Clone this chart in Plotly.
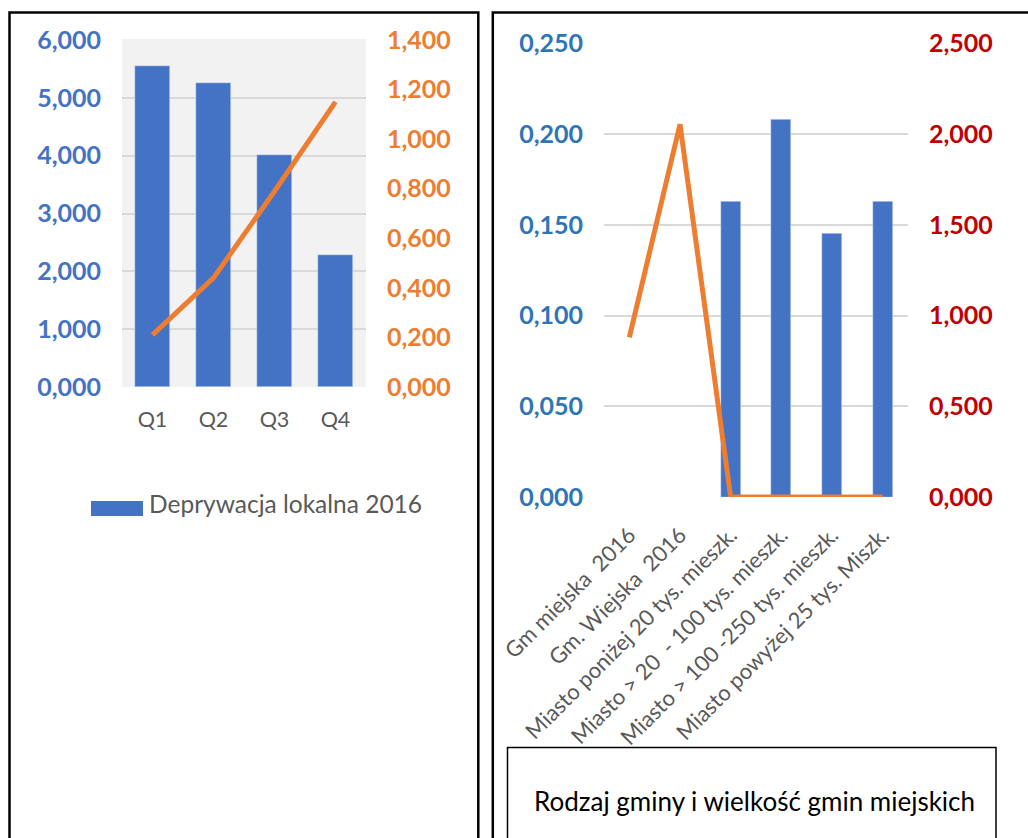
import plotly.graph_objects as go

# ---- data ----
quarters = ["Q1", "Q2", "Q3", "Q4"]
deprywacja_2016 = [5.55, 5.25, 4.01, 2.28]
kwartal_line = [0.21, 0.44, 0.79, 1.15]

gmina_types = [
    "Gm miejska  2016",
    "Gm. Wiejska  2016",
    "Miasto poniżej 20 tys. mieszk.",
    "Miasto > 20  - 100 tys. mieszk.",
    "Miasto > 100 -250 tys. mieszk.",
    "Miasto powyżej 25 tys. Miszk.",
]
gmina_bars = [None, None, 0.163, 0.208, 0.145, 0.163]
gmina_line = [0.88, 2.055, 0.0, 0.0, 0.0, 0.0]

W, H = 1028, 838
FONT = "Lato"
BLUE = "#4472C4"
ORANGE = "#ED7D31"
GRID = "#D9D9D9"
GRAY_TXT = "#595959"


def px_x(v):
    return v / W


def px_y(v):
    return 1 - v / H


fig = go.Figure()

# left chart: bars + line on secondary axis
fig.add_trace(go.Bar(x=quarters, y=deprywacja_2016, marker_color=BLUE,
                     width=[0.574] * 4, xaxis="x", yaxis="y",
                     name="Deprywacja lokalna 2016", showlegend=False))
fig.add_trace(go.Scatter(x=quarters, y=kwartal_line, mode="lines",
                         line=dict(color=ORANGE, width=5), xaxis="x", yaxis="y2",
                         showlegend=False))

# right chart: bars + line on secondary axis
fig.add_trace(go.Bar(x=gmina_types, y=gmina_bars, marker_color=BLUE,
                     width=[0.395] * 6, xaxis="x2", yaxis="y3", showlegend=False))
fig.add_trace(go.Scatter(x=gmina_types, y=gmina_line, mode="lines",
                         line=dict(color=ORANGE, width=5), xaxis="x2", yaxis="y4",
                         showlegend=False))

tick_bold = lambda c: dict(family=FONT, size=25, color=c, weight="bold")

fig.update_layout(
    width=W, height=H,
    autosize=False,
    margin=dict(l=0, r=0, t=0, b=0, pad=0, autoexpand=False),
    paper_bgcolor="white",
    plot_bgcolor="rgba(0,0,0,0)",
    separators=",.",
    font=dict(family=FONT),
    xaxis=dict(domain=[px_x(122), px_x(366)], anchor="y", type="category",
               range=[-0.5, 3.5], showgrid=False, showline=False, ticks="",
               automargin=False,
               tickfont=dict(family=FONT, size=21.5, color=GRAY_TXT),
               ticklabelstandoff=17),
    yaxis=dict(domain=[px_y(387), px_y(40)], anchor="x", range=[0, 6], dtick=1,
               tickformat=".3f", showgrid=True, gridcolor=GRID, gridwidth=1.5,
               zeroline=False, showline=False, ticks="", automargin=False,
               tickfont=tick_bold(BLUE), ticklabelstandoff=20),
    yaxis2=dict(overlaying="y", anchor="x", side="right", range=[0, 1.4], dtick=0.2,
                tickformat=".3f", showgrid=False, zeroline=False, showline=False,
                ticks="", automargin=False,
                tickfont=tick_bold(ORANGE), ticklabelstandoff=20),
    xaxis2=dict(domain=[px_x(604), px_x(908)], anchor="y3", type="category",
                range=[-0.5, 5.5], showgrid=False, showline=False, ticks="",
                automargin=False,
                tickangle=-45, tickfont=dict(family=FONT, size=22, color=GRAY_TXT),
                ticklabelstandoff=20),
    yaxis3=dict(domain=[px_y(497), px_y(43.5)], anchor="x2", range=[0, 0.25],
                dtick=0.05, tickformat=".3f", showgrid=True, gridcolor=GRID,
                gridwidth=1.5, zeroline=False, showline=False, ticks="",
                automargin=False,
                tickfont=tick_bold("#2E75B6"), ticklabelstandoff=20),
    yaxis4=dict(overlaying="y3", anchor="x2", side="right", range=[0, 2.5],
                dtick=0.5, tickformat=".3f", showgrid=False, zeroline=False,
                showline=False, ticks="", automargin=False,
                tickfont=tick_bold("#C00000"), ticklabelstandoff=20),
    bargap=0,
)

shapes = [
    # grey plot area of the left chart
    dict(type="rect", xref="x domain", yref="y domain", x0=0, x1=1, y0=0, y1=1.003,
         fillcolor="#F2F2F2", line_width=0, layer="below"),
    # panel frames
    dict(type="rect", xref="paper", yref="paper", x0=px_x(9.5), x1=px_x(478.3),
         y0=px_y(850), y1=px_y(12.5), line=dict(color="black", width=2.5),
         fillcolor="rgba(0,0,0,0)", layer="above"),
    dict(type="rect", xref="paper", yref="paper", x0=px_x(492.8), x1=px_x(1040),
         y0=px_y(850), y1=px_y(12.5), line=dict(color="black", width=2.5),
         fillcolor="rgba(0,0,0,0)", layer="above"),
    # title box of the right chart
    dict(type="rect", xref="paper", yref="paper", x0=px_x(507.5), x1=px_x(996),
         y0=px_y(850), y1=px_y(747.5), line=dict(color="black", width=1.5),
         fillcolor="rgba(0,0,0,0)", layer="above"),
    # legend swatch of the left chart
    dict(type="rect", xref="paper", yref="paper", x0=px_x(91), x1=px_x(143),
         y0=px_y(516), y1=px_y(501), fillcolor=BLUE, line_width=0, layer="above"),
]
fig.update_layout(shapes=shapes)

fig.add_annotation(x=px_x(147), y=px_y(503), xref="paper", yref="paper",
                   text="Deprywacja lokalna 2016", showarrow=False,
                   xanchor="left", yanchor="middle",
                   font=dict(family=FONT, size=24.5, color=GRAY_TXT))
fig.add_annotation(x=px_x(754), y=px_y(801), xref="paper", yref="paper",
                   text="Rodzaj gminy i wielkość gmin miejskich", showarrow=False,
                   xanchor="center", yanchor="middle",
                   font=dict(family=FONT, size=26, color="black"))

fig.write_html("out.html")
